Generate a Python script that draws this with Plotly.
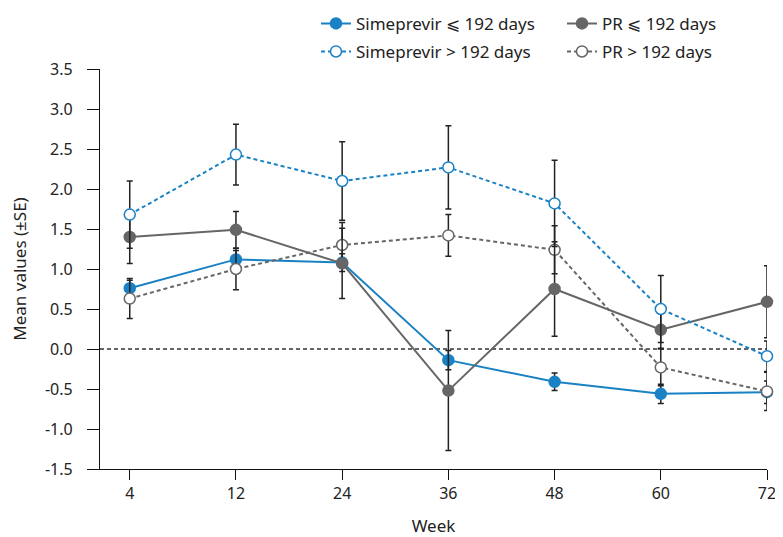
import plotly.graph_objects as go

weeks = ["4", "12", "24", "36", "48", "60", "72"]

sim_le = [0.76, 1.12, 1.08, -0.14, -0.41, -0.56, -0.54]
sim_le_se = [0.10, 0.11, 0.11, 0.12, 0.11, 0.12, 0.14]

sim_gt = [1.68, 2.43, 2.10, 2.27, 1.82, 0.50, -0.09]
sim_gt_se = [0.42, 0.38, 0.49, 0.52, 0.54, 0.42, 0.19]

pr_le = [1.40, 1.49, 1.07, -0.52, 0.75, 0.24, 0.59]
pr_le_se = [0.33, 0.23, 0.44, 0.75, 0.59, 0.23, 0.45]

pr_gt = [0.63, 1.00, 1.30, 1.42, 1.24, -0.23, -0.53]
pr_gt_se = [0.25, 0.26, 0.28, 0.26, 0.30, 0.23, 0.24]

y_ticks = [3.5, 3.0, 2.5, 2.0, 1.5, 1.0, 0.5, 0.0, -0.5, -1.0, -1.5]
y_tick_labels = ["3.5", "3.0", "2.5", "2.0", "1.5", "1.0", "0.5", "0.0", "-0.5", "-1.0", "-1.5"]

BLUE = "#1a82c4"
GRAY = "#666666"
ERR = "#222222"
FONT = "Noto Sans"

def err(se):
    return dict(type="data", array=se, visible=True, color=ERR, thickness=1.5, width=3)

fig = go.Figure()

fig.add_trace(go.Scatter(
    x=weeks, y=sim_le, error_y=err(sim_le_se), mode="lines+markers",
    name="Simeprevir ⩽ 192 days", legend="legend", legendrank=1,
    line=dict(color=BLUE, width=2),
    marker=dict(size=11, color=BLUE, line=dict(color=BLUE, width=1.5)),
    cliponaxis=False))

fig.add_trace(go.Scatter(
    x=weeks, y=pr_gt, error_y=err(pr_gt_se), mode="lines+markers",
    name="PR > 192 days", legend="legend2", legendrank=4,
    line=dict(color=GRAY, width=2, dash="4px,3px"),
    marker=dict(size=11, color="white", line=dict(color=GRAY, width=1.5)),
    cliponaxis=False))

fig.add_trace(go.Scatter(
    x=weeks, y=pr_le, error_y=err(pr_le_se), mode="lines+markers",
    name="PR ⩽ 192 days", legend="legend", legendrank=2,
    line=dict(color=GRAY, width=2),
    marker=dict(size=11, color=GRAY, line=dict(color=GRAY, width=1.5)),
    cliponaxis=False))

fig.add_trace(go.Scatter(
    x=weeks, y=sim_gt, error_y=err(sim_gt_se), mode="lines+markers",
    name="Simeprevir > 192 days", legend="legend2", legendrank=3,
    line=dict(color=BLUE, width=2, dash="4px,3px"),
    marker=dict(size=11, color="white", line=dict(color=BLUE, width=1.5)),
    cliponaxis=False))

fig.add_shape(type="line", xref="paper", yref="y", x0=0, x1=1, y0=0, y1=0,
              line=dict(color="#333333", width=1.5, dash="4px,3px"), layer="below")

legend_common = dict(orientation="h", xanchor="left", yanchor="middle",
                     xref="container", yref="container",
                     font=dict(family=FONT, size=17, color="#222222"),
                     bgcolor="rgba(0,0,0,0)", entrywidth=201, entrywidthmode="pixels",
                     itemclick=False, itemdoubleclick=False)

fig.update_layout(
    width=775, height=529,
    margin=dict(l=92, r=16, t=61, b=68, autoexpand=False),
    paper_bgcolor="white", plot_bgcolor="white",
    font=dict(family=FONT, size=16, color="#222222"),
    showlegend=True,
    legend=dict(x=0.3974, y=0.970, **legend_common),
    legend2=dict(x=0.3974, y=0.917, **legend_common),
    xaxis=dict(type="category", range=[-0.28, 6], showline=True, linecolor="#111111",
               linewidth=1.2, ticks="outside", ticklen=10, tickcolor="#111111",
               tickwidth=1.2, showgrid=False, zeroline=False,
               title=dict(text="Week", font=dict(size=17), standoff=19)),
    yaxis=dict(range=[-1.5, 3.5], tickmode="array", tickvals=y_ticks, ticktext=y_tick_labels,
               showline=True, linecolor="#111111", linewidth=1.2, ticks="outside",
               ticklen=12, tickcolor="#111111", tickwidth=1.2, showgrid=False,
               zeroline=False, ticklabelstandoff=11,
               title=dict(text="Mean values (±SE)", font=dict(size=17), standoff=17)),
)

fig.write_html("out.html")
